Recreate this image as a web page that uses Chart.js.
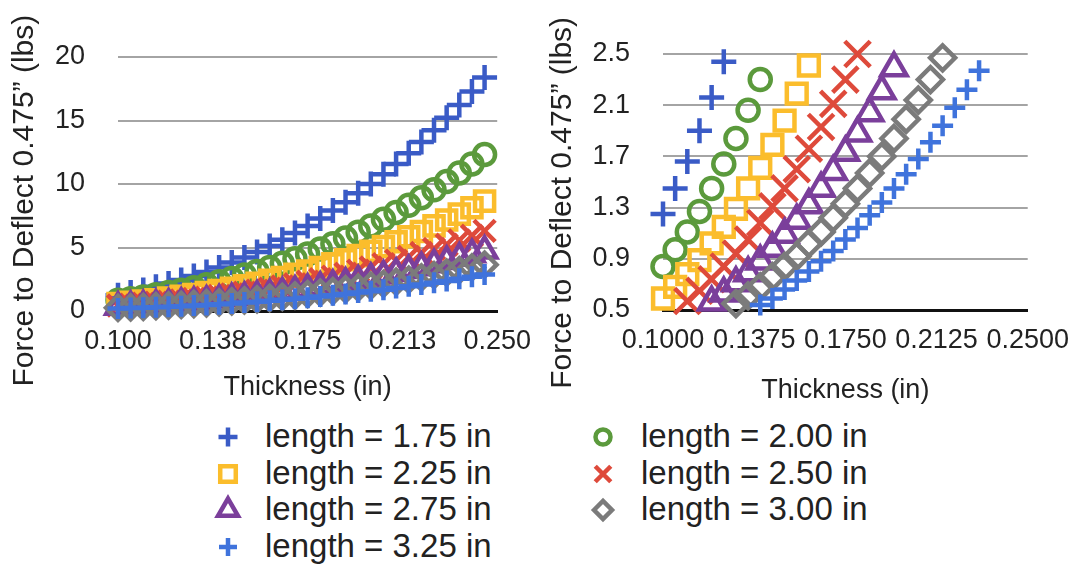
<!DOCTYPE html>
<html>
<head>
<meta charset="utf-8">
<title>Force to deflect vs. thickness</title>
<script src="https://cdn.jsdelivr.net/npm/chart.js@4.4.1/dist/chart.umd.min.js"></script>
<style>
  html, body { margin: 0; padding: 0; background: #fff; }
  #wrap { position: relative; width: 1083px; height: 569px; overflow: hidden;
          font-family: "Liberation Sans", Arial, Helvetica, sans-serif; }
  #leftChart { position: absolute; left: 0; top: 0; }
  #rightChart { position: absolute; left: 540px; top: 0; }
  .legIcon { position: absolute; width: 36px; height: 36px; }
  .legText { position: absolute; font-size: 33px; line-height: 36px; height: 36px;
             color: #222; white-space: nowrap; }
</style>
</head>
<body>
<div id="wrap">
  <canvas id="leftChart" width="545" height="410"></canvas>
  <canvas id="rightChart" width="543" height="410"></canvas>
  <div id="legend"></div>
</div>
<script>
// Beam thickness (in) for every sample
const thickness = [0.100, 0.105, 0.110, 0.115, 0.120, 0.125, 0.130, 0.135, 0.140, 0.145,
                   0.150, 0.155, 0.160, 0.165, 0.170, 0.175, 0.180, 0.185, 0.190, 0.195,
                   0.200, 0.205, 0.210, 0.215, 0.220, 0.225, 0.230, 0.235, 0.240, 0.245];

// Force (lbs) needed to deflect 0.475" for each beam length
const forceL175 = [1.25, 1.45, 1.66, 1.90, 2.16, 2.44, 2.75, 3.08, 3.43, 3.81,
                   4.22, 4.65, 5.12, 5.62, 6.14, 6.70, 7.29, 7.91, 8.57, 9.27,
                   10.00, 10.77, 11.58, 12.42, 13.31, 14.24, 15.21, 16.22, 17.28, 18.38];
const forceL200 = [0.84, 0.97, 1.11, 1.27, 1.45, 1.64, 1.84, 2.06, 2.30, 2.55,
                   2.83, 3.12, 3.43, 3.76, 4.11, 4.49, 4.88, 5.30, 5.74, 6.21,
                   6.70, 7.22, 7.76, 8.32, 8.92, 9.54, 10.19, 10.87, 11.58, 12.32];
const forceL225 = [0.59, 0.68, 0.78, 0.89, 1.02, 1.15, 1.29, 1.45, 1.61, 1.79,
                   1.98, 2.19, 2.41, 2.64, 2.89, 3.15, 3.43, 3.72, 4.03, 4.36,
                   4.71, 5.07, 5.45, 5.85, 6.26, 6.70, 7.16, 7.63, 8.13, 8.65];
const forceL250 = [0.43, 0.496, 0.57, 0.65, 0.74, 0.84, 0.94, 1.05, 1.18, 1.31,
                   1.45, 1.60, 1.76, 1.93, 2.11, 2.30, 2.50, 2.71, 2.94, 3.18,
                   3.43, 3.69, 3.97, 4.26, 4.57, 4.88, 5.22, 5.56, 5.93, 6.31];
const forceL275 = [0.32, 0.37, 0.43, 0.49, 0.56, 0.63, 0.71, 0.79, 0.88, 0.98,
                   1.09, 1.20, 1.32, 1.45, 1.58, 1.73, 1.88, 2.04, 2.21, 2.39,
                   2.58, 2.78, 2.98, 3.20, 3.43, 3.67, 3.92, 4.18, 4.45, 4.74];
const forceL300 = [0.25, 0.29, 0.33, 0.38, 0.43, 0.48, 0.55, 0.61, 0.68, 0.76,
                   0.84, 0.92, 1.02, 1.11, 1.22, 1.33, 1.45, 1.57, 1.70, 1.84,
                   1.99, 2.14, 2.30, 2.47, 2.64, 2.83, 3.02, 3.22, 3.43, 3.65];
const forceL325 = [0.20, 0.23, 0.26, 0.30, 0.34, 0.38, 0.43, 0.48, 0.54, 0.59,
                   0.66, 0.73, 0.80, 0.88, 0.96, 1.05, 1.14, 1.24, 1.34, 1.45,
                   1.56, 1.68, 1.81, 1.94, 2.08, 2.22, 2.37, 2.53, 2.70, 2.87];

const seriesLabels = ['length = 1.75 in', 'length = 2.00 in', 'length = 2.25 in',
                      'length = 2.50 in', 'length = 2.75 in', 'length = 3.00 in',
                      'length = 3.25 in'];

// Tick labels
const leftXTickLabels  = ['0.100', '0.138', '0.175', '0.213', '0.250'];
const leftYTickLabels  = ['0', '5', '10', '15', '20'];
const rightXTickLabels = ['0.1000', '0.1375', '0.1750', '0.2125', '0.2500'];
const rightYTickLabels = ['0.5', '0.9', '1.3', '1.7', '2.1', '2.5'];

const xTitle = 'Thickness (in)';
const yTitle = 'Force to Deflect 0.475\u201D (lbs)';

// ---- styling ----
const FONT = '"Liberation Sans", Arial, Helvetica, sans-serif';
const TEXT = '#222222';
const GRID = '#a4a4a4';

const forceSeries = [forceL175, forceL200, forceL225, forceL250, forceL275, forceL300, forceL325];

// marker look per series: radius on the full-range plot, the zoomed plot and the legend
const markerStyles = [
  { color: '#3a5bc6', shape: 'cross',    rFull: 12.5, rZoom: 12.5, rLeg: 9.5, width: 4.5 },
  { color: '#5b9a3c', shape: 'circle',   rFull: 10.5, rZoom: 10.5, rLeg: 7.5, width: 4.5 },
  { color: '#fbbd2c', shape: 'rect',     rFull: 13.5, rZoom: 14,   rLeg: 11,  width: 4.5 },
  { color: '#de4a3b', shape: 'crossRot', rFull: 15,   rZoom: 18,   rLeg: 11,  width: 4.5 },
  { color: '#7b3f9b', shape: 'triangle', rFull: 13.5, rZoom: 14.5, rLeg: 11.5,width: 4.5 },
  { color: '#7b7b7b', shape: 'rectRot',  rFull: 12,   rZoom: 12.5, rLeg: 9,   width: 4.5 },
  { color: '#3f73dc', shape: 'cross',    rFull: 10.5, rZoom: 10.5, rLeg: 9,   width: 4.5 }
];

function pointsOf(values) {
  return values.map((v, i) => ({ x: thickness[i], y: v }));
}

function buildDatasets(zoomed, yMin, yMax) {
  return forceSeries.map((values, i) => {
    const st = markerStyles[i];
    let pts = pointsOf(values);
    if (zoomed) pts = pts.filter(p => p.y >= yMin && p.y <= yMax);
    return {
      label: seriesLabels[i],
      data: pts,
      showLine: false,
      clip: false,
      order: -i,                      // later lengths painted over earlier ones
      pointStyle: st.shape,
      pointRadius: zoomed ? st.rZoom : st.rFull,
      pointHoverRadius: zoomed ? st.rZoom : st.rFull,
      pointBorderWidth: st.width,
      pointBorderColor: st.color,
      pointBackgroundColor: 'rgba(0,0,0,0)',
      borderColor: st.color,
      backgroundColor: 'rgba(0,0,0,0)'
    };
  });
}

function buildOptions(o) {
  return {
    responsive: false,
    animation: false,
    events: [],
    layout: { padding: { left: 0, top: o.padTop, right: o.padRight, bottom: 0 } },
    plugins: { legend: { display: false }, tooltip: { enabled: false } },
    scales: {
      x: {
        type: 'linear',
        min: 0.1, max: 0.25,
        afterFit(scale) { scale.height = o.xAxisHeight; },
        grid: { display: false, drawTicks: false },
        border: { display: true, color: '#111111', width: 3 },
        ticks: {
          stepSize: 0.0375, autoSkip: false, maxRotation: 0, minRotation: 0,
          padding: 14, color: TEXT, font: { family: FONT, size: 27 },
          callback: (v, i) => o.xLabels[i]
        },
        title: {
          display: true, text: xTitle, color: TEXT,
          font: { family: FONT, size: 27 },
          padding: { top: 0, bottom: o.xTitleBottom }
        }
      },
      y: {
        type: 'linear',
        min: o.yMin, max: o.yMax,
        afterFit(scale) { scale.width = o.yAxisWidth; },
        grid: { color: GRID, lineWidth: 2, drawTicks: false },
        border: { display: false },
        ticks: {
          stepSize: o.yStep, padding: 33, color: TEXT,
          font: { family: FONT, size: 27 },
          callback: (v, i) => o.yLabels[i]
        },
        title: {
          display: true,
          // trailing blanks push the centred caption a little towards the bottom
          text: yTitle + ' '.repeat(o.yTitleShift),
          color: TEXT,
          font: { family: FONT, size: 30 },
          padding: { top: o.yTitlePad, bottom: 0 }
        }
      }
    }
  };
}

// Full thickness range
new Chart(document.getElementById('leftChart'), {
  type: 'scatter',
  data: { datasets: buildDatasets(false) },
  options: buildOptions({
    padTop: 57, padRight: 38, xAxisHeight: 99, yAxisWidth: 118,
    yMin: 0, yMax: 20, yStep: 5, xLabels: leftXTickLabels, yLabels: leftYTickLabels,
    xTitleBottom: 6, yTitlePad: 7, yTitleShift: 4
  })
});

// Close-up of the 0.5 - 2.5 lb band
new Chart(document.getElementById('rightChart'), {
  type: 'scatter',
  data: { datasets: buildDatasets(true, 0.5, 2.5) },
  options: buildOptions({
    padTop: 54, padRight: 43, xAxisHeight: 100, yAxisWidth: 123,
    yMin: 0.5, yMax: 2.5, yStep: 0.4, xLabels: rightXTickLabels, yLabels: rightYTickLabels,
    xTitleBottom: 3, yTitlePad: 5, yTitleShift: 5
  })
});

// Shared legend: two columns, filled row by row
(function buildLegend() {
  const host = document.getElementById('legend');
  const iconX = [228, 603];
  const textX = [265, 641];
  const rowY = [437, 473.5, 510, 547];
  seriesLabels.forEach((label, i) => {
    const col = i % 2, row = Math.floor(i / 2);
    const st = markerStyles[i];
    const cv = document.createElement('canvas');
    cv.className = 'legIcon';
    cv.width = 36; cv.height = 36;
    cv.style.left = (iconX[col] - 18) + 'px';
    cv.style.top = (rowY[row] - 18) + 'px';
    host.appendChild(cv);
    const ctx = cv.getContext('2d');
    ctx.strokeStyle = st.color;
    ctx.fillStyle = 'rgba(0,0,0,0)';
    ctx.lineWidth = st.width;
    Chart.helpers.drawPoint(ctx, { pointStyle: st.shape, rotation: 0, radius: st.rLeg,
                                   borderWidth: st.width }, 18, 18);
    const tx = document.createElement('div');
    tx.className = 'legText';
    tx.textContent = label;
    tx.style.left = textX[col] + 'px';
    tx.style.top = (rowY[row] - 19) + 'px';
    host.appendChild(tx);
  });
})();
</script>
</body>
</html>
